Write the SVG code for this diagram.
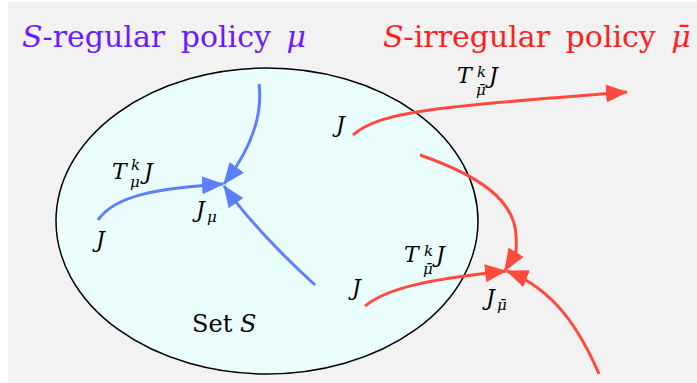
<svg xmlns="http://www.w3.org/2000/svg" width="697" height="383" viewBox="0 0 697 383">
<style>
text{font-family:"DejaVu Serif","Liberation Serif","Noto Serif",serif;}
.i{font-style:italic;}
.lbl{font-size:22px;fill:#000;font-style:italic;}
.s{font-size:15px;}
.blue{fill:none;stroke:#5b7fff;stroke-width:3;marker-end:url(#ab);}
.red{fill:none;stroke:#ff4a3d;stroke-width:3;marker-end:url(#ar);}
</style>
<defs>
<marker id="ab" viewBox="0 0 22 18" refX="21" refY="9" markerWidth="22" markerHeight="18" markerUnits="userSpaceOnUse" orient="auto"><path d="M0,0 L22,9 L0,18 z" fill="#5b7fff"/></marker>
<marker id="ar" viewBox="0 0 22 18" refX="21" refY="9" markerWidth="22" markerHeight="18" markerUnits="userSpaceOnUse" orient="auto"><path d="M0,0 L22,9 L0,18 z" fill="#ff4a3d"/></marker>
</defs>
<rect x="0" y="0" width="697" height="383" fill="#ffffff"/>
<rect x="8" y="2" width="689" height="381" fill="#f2f2f2"/>
<g id="setS">
<ellipse cx="267" cy="221" rx="211" ry="153" fill="#ebfefe" stroke="#000" stroke-width="1.5"/>
<text x="192" y="332" font-size="24">Set <tspan class="i">S</tspan></text>
</g>
<g id="title-regular">
<text x="22" y="47" font-size="30" fill="#6a1bff" word-spacing="6"><tspan class="i">S</tspan>-regular policy <tspan class="i">μ</tspan></text>
</g>
<g id="title-irregular">
<text x="383" y="47" font-size="30" fill="#ff1f1f" word-spacing="6"><tspan class="i">S</tspan>-irregular policy <tspan class="i">μ̄</tspan></text>
</g>
<g id="connectors">
<path class="blue" d="M259,84 C263,115 250,150 224,184"/>
<path class="blue" d="M98,220 C115,195 160,188 223,184"/>
<path class="blue" d="M315,285 Q255,230 224,186"/>
<path class="red" d="M353,135 C380,112 430,107 627,92"/>
<path class="red" d="M420,155 C480,176 514,200 516,235 S510,262 505,270"/>
<path class="red" d="M365,306 C385,290 420,280 506,271"/>
<path class="red" d="M599,374 C580,330 555,290 507,271"/>
</g>
<g id="Jmu">
<text class="lbl" x="196" y="217">J<tspan class="s" x="207" y="222">μ</tspan></text>
</g>
<g id="J-blue">
<text class="lbl" x="96" y="247">J</text>
</g>
<g id="TmuJ">
<text class="lbl" x="112" y="179">T<tspan class="s" x="131" y="170">k</tspan><tspan class="s" x="130" y="187">μ</tspan><tspan x="144" y="179">J</tspan></text>
</g>
<g id="J-red-top">
<text class="lbl" x="336" y="132">J</text>
</g>
<g id="TmubarJ-top">
<text class="lbl" x="457" y="83">T<tspan class="s" x="477" y="77">k</tspan><tspan class="s" x="476" y="95">μ̄</tspan><tspan x="489" y="83">J</tspan></text>
</g>
<g id="TmubarJ-low">
<text class="lbl" x="404" y="262">T<tspan class="s" x="424" y="256">k</tspan><tspan class="s" x="423" y="274">μ̄</tspan><tspan x="436" y="262">J</tspan></text>
</g>
<g id="J-red-low">
<text class="lbl" x="352" y="295">J</text>
</g>
<g id="Jmubar">
<text class="lbl" x="486" y="305">J<tspan class="s" x="497" y="310">μ̄</tspan></text>
</g>
</svg>
